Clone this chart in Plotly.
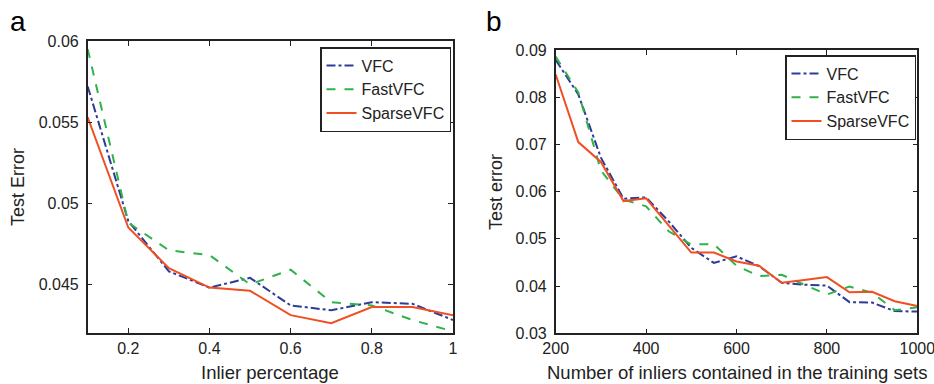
import plotly.graph_objects as go

# Panel a data
inlier_pct = [0.1, 0.2, 0.3, 0.4, 0.5, 0.6, 0.7, 0.8, 0.9, 1.0]
a_vfc = [0.0572, 0.0489, 0.0458, 0.0448, 0.0454, 0.0437, 0.0434, 0.0439, 0.0438, 0.0428]
a_fast = [0.0595, 0.0488, 0.0471, 0.0468, 0.0450, 0.0459, 0.0439, 0.0437, 0.0428, 0.0421]
a_sparse = [0.0553, 0.0485, 0.0460, 0.0448, 0.0446, 0.0431, 0.0426, 0.0436, 0.0436, 0.0431]

# Panel b data
n_inliers = [200, 250, 300, 350, 400, 450, 500, 550, 600, 650, 700, 750, 800, 850, 900, 950, 1000]
b_vfc = [0.0879, 0.0806, 0.0672, 0.0585, 0.0588, 0.0537, 0.0481, 0.0449, 0.0463, 0.0442, 0.0407, 0.0403, 0.0401, 0.0366, 0.0365, 0.0347, 0.0346]
b_fast = [0.0886, 0.0810, 0.0645, 0.0583, 0.0569, 0.0516, 0.0488, 0.0489, 0.0443, 0.0421, 0.0424, 0.0403, 0.0382, 0.0399, 0.0386, 0.0349, 0.0355]
b_sparse = [0.0848, 0.0705, 0.0663, 0.0580, 0.0586, 0.0528, 0.0471, 0.0471, 0.0452, 0.0443, 0.0407, 0.0413, 0.0419, 0.0387, 0.0388, 0.0368, 0.0358]

series_names = ["VFC", "FastVFC", "SparseVFC"]
colors = ["#2e3b97", "#2fb24a", "#f04e23"]
dashes = ["dashdot", "dash", "solid"]

W, H = 934, 384
font_family = "Liberation Sans, Arial, sans-serif"

fig = go.Figure()

for name, ys, c, d in zip(series_names, [a_vfc, a_fast, a_sparse], colors, dashes):
    fig.add_trace(go.Scatter(x=inlier_pct, y=ys, mode="lines", name=name,
                             line=dict(color=c, dash=d, width=2),
                             xaxis="x", yaxis="y", legend="legend"))
for name, ys, c, d in zip(series_names, [b_vfc, b_fast, b_sparse], colors, dashes):
    fig.add_trace(go.Scatter(x=n_inliers, y=ys, mode="lines", name=name,
                             line=dict(color=c, dash=d, width=2),
                             xaxis="x2", yaxis="y2", legend="legend2"))

axis_common = dict(showline=True, linecolor="#222", linewidth=1.5, mirror="ticks",
                   ticks="inside", ticklen=5, tickcolor="#222", showgrid=False,
                   zeroline=False, automargin=False, ticklabeloverflow="allow",
                   tickfont=dict(size=16, color="#222"))


def px_x(p):
    return p / W


def px_y(p):
    return 1 - p / H


legend_common = dict(xanchor="left", yanchor="top", bgcolor="white", bordercolor="#222",
                     borderwidth=1.5, font=dict(size=16, color="#222"),
                     tracegroupgap=0, itemwidth=30)


def label(text, x, y, size, angle=0, color="#222"):
    return dict(text=text, x=px_x(x), y=px_y(y), xref="paper", yref="paper",
                xanchor="center", yanchor="middle", textangle=angle, showarrow=False,
                font=dict(size=size, color=color))


fig.update_layout(
    width=W, height=H,
    margin=dict(l=0, r=0, t=0, b=0, autoexpand=False),
    paper_bgcolor="white", plot_bgcolor="white",
    font=dict(family=font_family, color="#222"),
    xaxis=dict(domain=[px_x(87.7), px_x(453)], range=[0.1, 1],
               tickvals=[0.2, 0.4, 0.6, 0.8, 1], ticktext=["0.2", "0.4", "0.6", "0.8", "1"],
               anchor="y", **axis_common),
    yaxis=dict(domain=[px_y(333), px_y(41)], range=[0.042, 0.06],
               tickvals=[0.045, 0.05, 0.055, 0.06], ticktext=["0.045", "0.05", "0.055", "0.06"],
               anchor="x", ticklabelstandoff=4, **axis_common),
    xaxis2=dict(domain=[px_x(555.7), px_x(917.3)], range=[200, 1000],
                tickvals=[200, 400, 600, 800, 1000], anchor="y2", **axis_common),
    yaxis2=dict(domain=[px_y(333.3), px_y(50)], range=[0.03, 0.09],
                tickvals=[0.03, 0.04, 0.05, 0.06, 0.07, 0.08, 0.09],
                ticktext=["0.03", "0.04", "0.05", "0.06", "0.07", "0.08", "0.09"],
                anchor="x2", ticklabelstandoff=4, **axis_common),
    legend=dict(x=px_x(320), y=px_y(47), **legend_common),
    legend2=dict(x=px_x(785), y=px_y(55), **legend_common),
    annotations=[
        label("a", 18, 21, 28, color="black"),
        label("b", 494, 21, 28, color="black"),
        label("Test Error", 18, 187, 18, angle=-90),
        label("Test error", 496, 192, 18, angle=-90),
        label("Inlier percentage", 270, 372, 18.5),
        label("Number of inliers contained in the training sets", 737, 372, 18.5),
    ],
)

fig.write_html("out.html",
               config={"displayModeBar": False},
               post_script="document.body.style.margin='0';document.body.style.overflow='hidden';")
